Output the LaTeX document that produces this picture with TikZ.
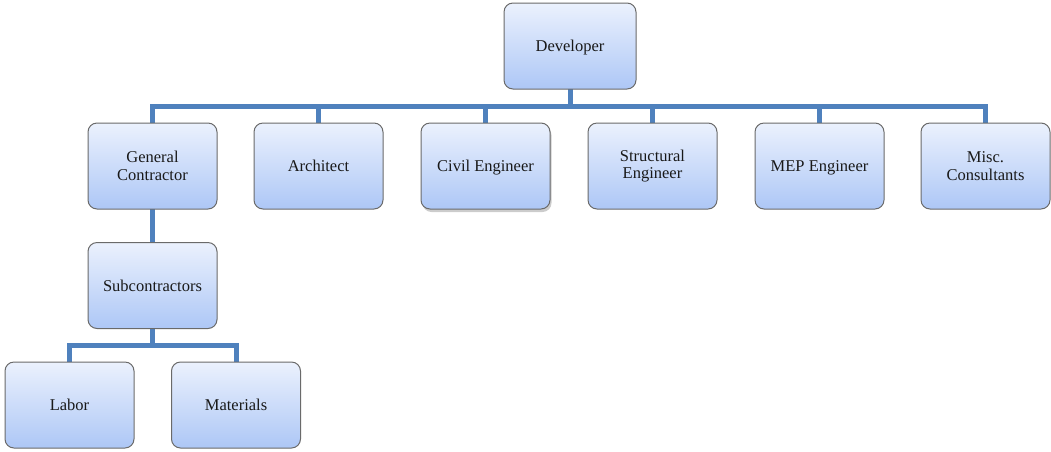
\documentclass[tikz,border=0pt]{standalone}
\usepackage{fontspec}
\setmainfont{Liberation Serif}
\usetikzlibrary{shadows}
\definecolor{linkblue}{HTML}{4F81BD}
\definecolor{boxtop}{HTML}{EBF1FD}
\definecolor{boxbot}{HTML}{ADC7F6}
\definecolor{boxedge}{HTML}{6A6A6A}
\begin{document}
\begin{tikzpicture}[x=1pt,y=-1pt,
  orgbox/.style={rectangle, rounded corners=9pt, draw=boxedge, line width=1pt,
    top color=boxtop, bottom color=boxbot, minimum width=129pt, minimum height=86pt,
    align=center, inner sep=2pt, text=black!90, font=\fontsize{16.5}{17.5}\selectfont},
  oneline/.style={text depth=0pt},
  conn/.style={draw=linkblue, line width=5pt, line join=miter}]
\useasboundingbox (0,0) rectangle (1051,451);
% connectors first (behind boxes)
\coordinate (devs) at (570,89);
\coordinate (gcn) at (152.5,123);
\coordinate (arn) at (318.5,123);
\coordinate (cin) at (485.5,123);
\coordinate (stn) at (652.5,123);
\coordinate (men) at (819.5,123);
\coordinate (min) at (985.5,123);
\coordinate (gcs) at (152.5,209);
\coordinate (sbn) at (152.5,242);
\coordinate (sbs) at (152.5,329);
\coordinate (lbn) at (69.5,362);
\coordinate (mtn) at (236,362);
\foreach \c in {gcn,arn,cin,stn,men,min}
  \draw[conn] (devs) -- ++(0,17.5) -| (\c);
\draw[conn] (gcs) -- (sbn);
\draw[conn] (sbs) -- ++(0,16.5) -| (lbn);
\draw[conn] (sbs) -- ++(0,16.5) -| (mtn);
% boxes
\node[orgbox, oneline, minimum width=132pt] (dev) at (570,46) {Developer};
\node[orgbox] (gc) at (152.5,166) {General\\Contractor};
\node[orgbox, oneline] (ar) at (318.5,166) {Architect};
\node[orgbox, oneline, drop shadow={shadow xshift=1.5pt, shadow yshift=-3pt, opacity=0.4}] (ci) at (485.5,166) {Civil Engineer};
\node[orgbox] (st) at (652.5,166) {Structural\\Engineer};
\node[orgbox, oneline] (me) at (819.5,166) {MEP Engineer};
\node[orgbox] (mi) at (985.5,166) {Misc.\\Consultants};
\node[orgbox, oneline] (sb) at (152.5,285.5) {Subcontractors};
\node[orgbox, oneline] (lb) at (69.5,405) {Labor};
\node[orgbox, oneline] (mt) at (236,405) {Materials};
\end{tikzpicture}
\end{document}
